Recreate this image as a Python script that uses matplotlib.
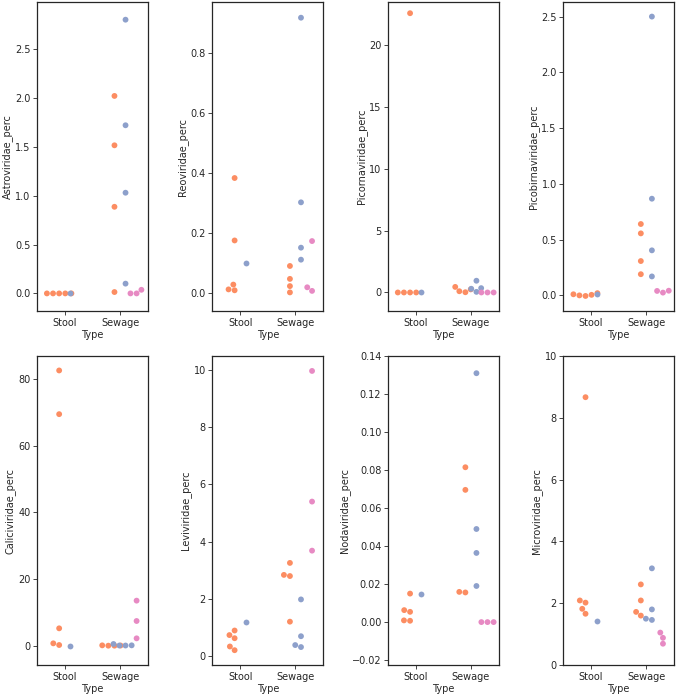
import matplotlib
matplotlib.use("Agg")
import matplotlib.pyplot as plt
import pandas as pd
import seaborn as sns

# hue levels; first one has no samples in these families
GROUPS = ["G0", "G1", "G2", "G3"]
PALETTE = ["#66c2a5", "#fc8d62", "#8da0cb", "#e78ac3"]
TYPES = ["Stool", "Sewage"]

astroviridae = {
    ("Stool", "G1"): [0.0, 0.0, 0.0, 0.0, 0.0],
    ("Stool", "G2"): [0.005],
    ("Sewage", "G1"): [2.02, 1.515, 0.886, 0.014],
    ("Sewage", "G2"): [2.80, 1.72, 1.03, 0.10],
    ("Sewage", "G3"): [0.0, 0.0, 0.037],
}
reoviridae = {
    ("Stool", "G1"): [0.384, 0.176, 0.013, 0.010, 0.029],
    ("Stool", "G2"): [0.101],
    ("Sewage", "G1"): [0.091, 0.048, 0.024, 0.003],
    ("Sewage", "G2"): [0.918, 0.303, 0.152, 0.112],
    ("Sewage", "G3"): [0.174, 0.020, 0.008],
}
picornaviridae = {
    ("Stool", "G1"): [22.6, 0.0, 0.0, 0.0, 0.0],
    ("Stool", "G2"): [0.0],
    ("Sewage", "G1"): [0.45, 0.25, 0.1, 0.02],
    ("Sewage", "G2"): [0.95, 0.35, 0.3, 0.05],
    ("Sewage", "G3"): [0.0, 0.0, 0.0],
}
picobirnaviridae = {
    ("Stool", "G1"): [0.0, 0.005, -0.005, 0.02, 0.01],
    ("Stool", "G2"): [0.012],
    ("Sewage", "G1"): [0.64, 0.556, 0.308, 0.19],
    ("Sewage", "G2"): [2.5, 0.867, 0.404, 0.17],
    ("Sewage", "G3"): [0.04, 0.025, 0.042],
}
caliciviridae = {
    ("Stool", "G1"): [82.5, 69.4, 5.2, 0.7, 0.2],
    ("Stool", "G2"): [0.05],
    ("Sewage", "G1"): [0.1, 0.05, 0.0, 0.0],
    ("Sewage", "G2"): [0.05, 0.05, 0.1, 0.5],
    ("Sewage", "G3"): [13.5, 7.4, 2.2],
}
leviviridae = {
    ("Stool", "G1"): [0.72, 0.61, 0.32, 0.19, 0.88],
    ("Stool", "G2"): [1.17],
    ("Sewage", "G1"): [3.25, 2.83, 2.79, 1.19],
    ("Sewage", "G2"): [1.97, 0.68, 0.37, 0.30],
    ("Sewage", "G3"): [9.98, 5.40, 3.68],
}
nodaviridae = {
    ("Stool", "G1"): [0.015, 0.0063, 0.0054, 0.0009, 0.0007],
    ("Stool", "G2"): [0.0147],
    ("Sewage", "G1"): [0.0815, 0.0696, 0.0159, 0.0156],
    ("Sewage", "G2"): [0.131, 0.049, 0.0364, 0.019],
    ("Sewage", "G3"): [0.0, 0.0, 0.0],
}
microviridae = {
    ("Stool", "G1"): [8.67, 2.09, 2.02, 1.82, 1.66],
    ("Stool", "G2"): [1.42],
    ("Sewage", "G1"): [2.61, 2.09, 1.72, 1.6],
    ("Sewage", "G2"): [3.13, 1.80, 1.50, 1.46],
    ("Sewage", "G3"): [1.05, 0.88, 0.69],
}

PANELS = [
    ("Astroviridae_perc", astroviridae, (-0.18, 2.98)),
    ("Reoviridae_perc", reoviridae, (-0.059, 0.97)),
    ("Picornaviridae_perc", picornaviridae, (-1.5, 23.5)),
    ("Picobirnaviridae_perc", picobirnaviridae, (-0.14, 2.63)),
    ("Caliciviridae_perc", caliciviridae, (-5.8, 86.8)),
    ("Leviviridae_perc", leviviridae, (-0.33, 10.5)),
    ("Nodaviridae_perc", nodaviridae, (-0.0226, 0.14)),
    ("Microviridae_perc", microviridae, (0, 10)),
]


def to_long(name, data):
    rows = []
    for (typ, grp), vals in data.items():
        for v in vals:
            rows.append({"Type": typ, "Group": grp, name: v})
    return pd.DataFrame(rows)


plt.rcParams.update({
    "font.size": 7,
    "axes.linewidth": 0.9,
    "axes.edgecolor": "#262626",
    "xtick.major.size": 2.8,
    "ytick.major.size": 2.8,
    "xtick.major.width": 0.6,
    "ytick.major.width": 0.6,
    "xtick.major.pad": 2.5,
    "ytick.major.pad": 2,
    "xtick.color": "#262626",
    "ytick.color": "#262626",
    "axes.labelcolor": "#262626",
})

fig, axes = plt.subplots(2, 4, figsize=(6.77, 6.96), dpi=100)
fig.subplots_adjust(left=0.0547, right=0.9956, top=0.997, bottom=0.0445,
                    wspace=0.586, hspace=0.146)

for ax, (name, data, ylim) in zip(axes.flat, PANELS):
    df = to_long(name, data)
    sns.swarmplot(data=df, x="Type", y=name, hue="Group", order=TYPES,
                  hue_order=GROUPS, palette=PALETTE, dodge=True, size=4.2,
                  linewidth=0, legend=False, ax=ax, warn_thresh=1)
    ax.set_ylim(*ylim)
    ax.set_xlim(-0.5, 1.5)
    ax.set_xlabel("Type", labelpad=1)
    ax.set_ylabel(name, labelpad=1.5)

fig.savefig("out.png", dpi=100)
